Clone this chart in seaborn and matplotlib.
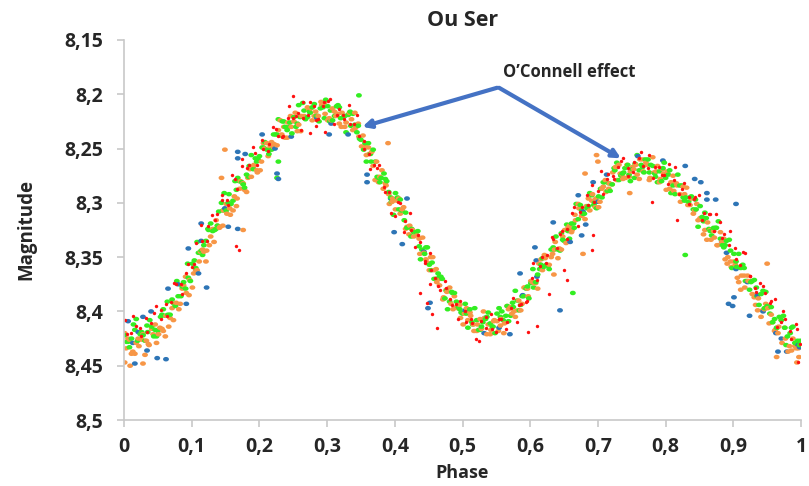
import matplotlib
matplotlib.use("Agg")
import matplotlib.pyplot as plt
from matplotlib.path import Path
import seaborn as sns
import pandas as pd

# ---------------- data ----------------
green_phase = [0.001,0.006,0.011,0.016,0.020,0.026,0.031,0.035,0.041,0.046,0.050,0.056,0.061,0.065,0.071,0.076,0.080,0.086,0.091,0.095,
0.101,0.106,0.110,0.116,0.121,0.125,0.131,0.136,0.140,0.146,0.151,0.155,0.161,0.166,0.170,0.176,0.181,0.185,0.191,0.196,
0.200,0.206,0.211,0.215,0.221,0.226,0.230,0.236,0.241,0.245,0.251,0.256,0.260,0.266,0.271,0.275,0.281,0.286,0.290,0.296,
0.301,0.305,0.311,0.316,0.320,0.326,0.331,0.335,0.341,0.346,0.350,0.356,0.361,0.365,0.371,0.376,0.380,0.386,0.391,0.395,
0.401,0.406,0.410,0.416,0.421,0.425,0.431,0.436,0.440,0.446,0.451,0.455,0.461,0.466,0.470,0.476,0.481,0.485,0.491,0.496,
0.500,0.506,0.511,0.515,0.521,0.526,0.530,0.536,0.541,0.545,0.551,0.556,0.560,0.566,0.571,0.575,0.581,0.586,0.590,0.596,
0.601,0.605,0.611,0.616,0.620,0.626,0.631,0.635,0.641,0.646,0.650,0.656,0.661,0.665,0.671,0.676,0.680,0.686,0.691,0.695,
0.701,0.706,0.710,0.716,0.721,0.725,0.731,0.736,0.740,0.746,0.751,0.755,0.761,0.766,0.770,0.776,0.781,0.785,0.791,0.796,
0.800,0.806,0.811,0.815,0.821,0.826,0.830,0.836,0.841,0.845,0.851,0.856,0.860,0.866,0.871,0.875,0.881,0.886,0.890,0.896,
0.901,0.905,0.911,0.916,0.920,0.926,0.931,0.935,0.941,0.946,0.950,0.956,0.961,0.965,0.971,0.976,0.980,0.986,0.991,0.995,0.999,
0.347,0.829,0.663,0.226,0.228,
0.004,0.014,0.024,0.034,0.044,0.054,0.064,0.074,0.084,0.094,0.104,0.114,0.124,0.134,0.144,0.154,0.164,0.174,0.184,0.194,
0.204,0.214,0.224,0.234,0.244,0.254,0.264,0.274,0.284,0.294,0.304,0.314,0.324,0.334,0.344,0.354,0.364,0.374,0.384,0.394,
0.404,0.414,0.424,0.434,0.444,0.454,0.464,0.474,0.484,0.494,0.504,0.514,0.524,0.534,0.544,0.554,0.564,0.574,0.584,0.594,
0.604,0.614,0.624,0.634,0.644,0.654,0.664,0.674,0.684,0.694,0.704,0.714,0.724,0.734,0.744,0.754,0.764,0.774,0.784,0.794,
0.804,0.814,0.824,0.834,0.844,0.854,0.864,0.874,0.884,0.894,0.904,0.914,0.924,0.934,0.944,0.954,0.964,0.974,0.984,0.994,
0.008,0.018,0.028,0.038,0.048,0.058,0.068,0.078,0.088,0.098,0.108,0.118,0.128,0.138,0.148,0.158,0.168,0.178,0.188,0.198,
0.208,0.218,0.228,0.238,0.248,0.258,0.268,0.278,0.288,0.298,0.308,0.318,0.328,0.338,0.348,0.358,0.368,0.378,0.388,0.398,
0.408,0.418,0.428,0.438,0.448,0.458,0.468,0.478,0.488,0.498,0.508,0.518,0.528,0.538,0.548,0.558,0.568,0.578,0.588,0.598,
0.608,0.618,0.628,0.638,0.648,0.658,0.668,0.678,0.688,0.698,0.708,0.718,0.728,0.738,0.748,0.758,0.768,0.778,0.788,0.798,
0.808,0.818,0.828,0.838,0.848,0.858,0.868,0.878,0.888,0.898,0.908,0.918,0.928,0.938,0.948,0.958,0.968,0.978,0.988,0.998]
green_mag = [8.422,8.428,8.425,8.417,8.427,8.419,8.427,8.419,8.414,8.417,8.418,8.403,8.404,8.403,8.389,8.395,8.386,8.377,8.379,8.369,
8.356,8.360,8.346,8.348,8.335,8.325,8.326,8.324,8.308,8.307,8.307,8.292,8.298,8.288,8.280,8.283,8.274,8.266,8.269,8.262,
8.257,8.249,8.251,8.251,8.237,8.237,8.238,8.225,8.233,8.226,8.221,8.227,8.221,8.215,8.221,8.217,8.209,8.220,8.213,8.222,
8.211,8.215,8.220,8.210,8.222,8.220,8.219,8.229,8.228,8.229,8.242,8.245,8.245,8.262,8.262,8.277,8.277,8.278,8.290,8.299,
8.291,8.306,8.307,8.309,8.322,8.324,8.327,8.340,8.343,8.341,8.357,8.355,8.370,8.368,8.370,8.381,8.391,8.383,8.391,8.398,
8.402,8.402,8.398,8.412,8.408,8.417,8.410,8.405,8.411,8.414,8.402,8.405,8.408,8.395,8.404,8.396,8.390,8.394,8.386,8.377,
8.374,8.378,8.366,8.357,8.359,8.358,8.343,8.343,8.343,8.328,8.335,8.326,8.319,8.323,8.315,8.307,8.310,8.303,8.293,8.300,
8.294,8.295,8.281,8.282,8.283,8.270,8.279,8.273,8.268,8.274,8.269,8.264,8.270,8.267,8.260,8.272,8.266,8.276,8.271,8.268,
8.277,8.270,8.284,8.283,8.284,8.295,8.295,8.295,8.306,8.306,8.303,8.317,8.314,8.326,8.323,8.323,8.333,8.341,8.335,8.344,
8.347,8.359,8.360,8.360,8.372,8.373,8.371,8.386,8.384,8.397,8.395,8.396,8.407,8.415,8.408,8.415,8.423,8.415,8.429,8.427,8.427,
8.201,8.348,8.383,8.277,8.262,
8.428,8.412,8.421,8.413,8.423,8.405,8.391,8.393,8.386,8.356,8.353,8.344,8.324,8.325,8.300,8.300,8.280,8.281,8.276,8.259,
8.249,8.255,8.237,8.225,8.230,8.230,8.208,8.216,8.220,8.212,8.225,8.211,8.221,8.216,8.235,8.251,8.255,8.276,8.273,8.295,
8.295,8.316,8.331,8.326,8.347,8.362,8.365,8.388,8.382,8.396,8.393,8.410,8.417,8.407,8.414,8.397,8.404,8.392,8.399,8.379,
8.361,8.361,8.357,8.341,8.344,8.320,8.319,8.302,8.305,8.302,8.287,8.289,8.268,8.275,8.265,8.277,8.265,8.260,8.273,8.280,
8.274,8.292,8.284,8.299,8.297,8.313,8.324,8.323,8.339,8.334,8.354,8.357,8.380,8.378,8.381,8.402,8.415,8.404,8.420,8.430,
8.433,8.407,8.422,8.408,8.423,8.398,8.403,8.372,8.373,8.372,8.336,8.339,8.319,8.321,8.291,8.301,8.277,8.286,8.256,8.260,
8.244,8.251,8.223,8.230,8.236,8.210,8.223,8.212,8.225,8.205,8.224,8.212,8.235,8.218,8.241,8.262,8.251,8.281,8.280,8.311,
8.297,8.323,8.327,8.352,8.341,8.370,8.368,8.398,8.383,8.401,8.415,8.397,8.414,8.401,8.420,8.400,8.409,8.381,8.386,8.388,
8.373,8.351,8.361,8.331,8.334,8.333,8.301,8.310,8.291,8.305,8.281,8.289,8.263,8.272,8.280,8.256,8.272,8.265,8.281,8.263,
8.291,8.274,8.298,8.294,8.322,8.309,8.330,8.317,8.339,8.360,8.347,8.372,8.372,8.394,8.382,8.410,8.405,8.431,8.414,8.431]

orange_phase = [0.003,0.008,0.013,0.018,0.022,0.028,0.033,0.037,0.043,0.048,0.053,0.058,0.062,0.068,0.073,0.077,0.083,0.088,0.092,0.097,
0.103,0.108,0.113,0.118,0.122,0.128,0.133,0.138,0.142,0.147,0.152,0.157,0.163,0.167,0.172,0.178,0.183,0.188,0.192,0.197,
0.203,0.208,0.213,0.218,0.222,0.228,0.233,0.238,0.242,0.247,0.253,0.258,0.262,0.268,0.273,0.278,0.283,0.287,0.292,0.297,
0.303,0.308,0.313,0.318,0.322,0.328,0.333,0.338,0.342,0.347,0.353,0.358,0.362,0.368,0.373,0.378,0.383,0.387,0.392,0.397,
0.403,0.408,0.413,0.418,0.422,0.428,0.433,0.437,0.443,0.448,0.453,0.458,0.462,0.467,0.472,0.477,0.483,0.488,0.493,0.497,
0.503,0.508,0.512,0.517,0.522,0.528,0.533,0.538,0.542,0.547,0.553,0.557,0.562,0.568,0.573,0.578,0.583,0.588,0.592,0.597,
0.603,0.608,0.613,0.618,0.622,0.628,0.633,0.637,0.643,0.648,0.653,0.658,0.662,0.667,0.672,0.677,0.683,0.688,0.692,0.697,
0.703,0.708,0.712,0.717,0.722,0.728,0.733,0.737,0.743,0.748,0.753,0.758,0.762,0.767,0.772,0.777,0.783,0.788,0.792,0.797,
0.803,0.808,0.812,0.817,0.822,0.828,0.833,0.838,0.843,0.848,0.853,0.858,0.862,0.867,0.872,0.877,0.883,0.888,0.892,0.897,
0.903,0.908,0.912,0.917,0.922,0.928,0.933,0.937,0.943,0.948,0.953,0.958,0.962,0.967,0.972,0.977,0.983,0.988,0.993,0.997,
0.149,0.144,0.176,0.390,0.678,0.635,0.698,0.700,0.681,0.747,0.950,0.994,0.964,0.001,0.009,0.028,
0.006,0.016,0.026,0.036,0.046,0.056,0.066,0.076,0.086,0.096,0.106,0.116,0.126,0.136,0.146,0.156,0.166,0.176,0.186,0.196,
0.206,0.216,0.226,0.236,0.246,0.256,0.266,0.276,0.286,0.296,0.306,0.316,0.326,0.336,0.346,0.356,0.366,0.376,0.386,0.396,
0.406,0.416,0.426,0.436,0.446,0.456,0.466,0.476,0.486,0.496,0.506,0.516,0.526,0.536,0.546,0.556,0.566,0.576,0.586,0.596,
0.606,0.616,0.626,0.636,0.646,0.656,0.666,0.676,0.686,0.696,0.706,0.716,0.726,0.736,0.746,0.756,0.766,0.776,0.786,0.796,
0.806,0.816,0.826,0.836,0.846,0.856,0.866,0.876,0.886,0.896,0.906,0.916,0.926,0.936,0.946,0.956,0.966,0.976,0.986,0.996,
0.001,0.011,0.021,0.031,0.041,0.051,0.061,0.071,0.081,0.091,0.101,0.111,0.121,0.131,0.141,0.151,0.161,0.171,0.181,0.191,
0.201,0.211,0.221,0.231,0.241,0.251,0.261,0.271,0.281,0.291,0.301,0.311,0.321,0.331,0.341,0.351,0.361,0.371,0.381,0.391,
0.401,0.411,0.421,0.431,0.441,0.451,0.461,0.471,0.481,0.491,0.501,0.511,0.521,0.531,0.541,0.551,0.561,0.571,0.581,0.591,
0.601,0.611,0.621,0.631,0.641,0.651,0.661,0.671,0.681,0.691,0.701,0.711,0.721,0.731,0.741,0.751,0.761,0.771,0.781,0.791,
0.801,0.811,0.821,0.831,0.841,0.851,0.861,0.871,0.881,0.891,0.901,0.911,0.921,0.931,0.941,0.951,0.961,0.971,0.981,0.991]
orange_mag = [8.434,8.426,8.437,8.429,8.432,8.421,8.427,8.431,8.421,8.429,8.415,8.418,8.404,8.406,8.408,8.392,8.393,8.376,8.383,8.371,
8.365,8.362,8.345,8.345,8.344,8.331,8.336,8.321,8.322,8.307,8.310,8.311,8.294,8.296,8.280,8.288,8.277,8.276,8.265,8.272,
8.262,8.250,8.257,8.244,8.246,8.233,8.237,8.240,8.226,8.230,8.217,8.228,8.220,8.222,8.214,8.224,8.216,8.220,8.210,8.218,
8.222,8.213,8.220,8.227,8.217,8.226,8.217,8.233,8.231,8.239,8.238,8.256,8.255,8.266,8.262,8.276,8.287,8.284,8.301,8.296,
8.298,8.310,8.304,8.322,8.321,8.331,8.330,8.347,8.346,8.355,8.350,8.362,8.373,8.370,8.387,8.382,8.393,8.386,8.397,8.406,
8.402,8.408,8.404,8.418,8.412,8.416,8.406,8.412,8.417,8.408,8.418,8.407,8.411,8.398,8.402,8.405,8.390,8.393,8.378,8.386,
8.373,8.374,8.356,8.362,8.351,8.357,8.347,8.336,8.342,8.331,8.337,8.321,8.325,8.316,8.305,8.311,8.303,8.307,8.292,8.296,
8.299,8.285,8.290,8.282,8.272,8.279,8.273,8.278,8.265,8.271,8.269,8.274,8.260,8.271,8.265,8.277,8.272,8.266,8.278,8.273,
8.271,8.281,8.289,8.284,8.299,8.292,8.302,8.296,8.307,8.316,8.315,8.325,8.318,8.334,8.332,8.339,8.336,8.352,8.350,8.359,
8.357,8.373,8.367,8.378,8.372,8.384,8.394,8.388,8.399,8.393,8.411,8.410,8.417,8.414,8.429,8.425,8.432,8.425,8.434,8.442,
8.251,8.277,8.325,8.245,8.347,8.366,8.256,8.262,8.273,8.291,8.356,8.447,8.442,8.447,8.450,8.448,
8.425,8.439,8.426,8.430,8.412,8.416,8.414,8.394,8.379,8.385,8.362,8.343,8.339,8.316,8.321,8.305,8.303,8.282,8.269,8.270,
8.245,8.248,8.247,8.230,8.220,8.234,8.220,8.213,8.220,8.208,8.224,8.218,8.230,8.223,8.227,8.248,8.253,8.281,8.282,8.299,
8.296,8.324,8.325,8.333,8.352,8.350,8.376,8.380,8.398,8.394,8.397,8.412,8.407,8.421,8.409,8.413,8.395,8.400,8.399,8.379,
8.374,8.352,8.358,8.343,8.343,8.323,8.311,8.312,8.296,8.304,8.287,8.287,8.267,8.274,8.276,8.265,8.260,8.279,8.271,8.269,
8.287,8.282,8.285,8.302,8.301,8.329,8.325,8.339,8.333,8.354,8.369,8.367,8.372,8.399,8.398,8.403,8.420,8.415,8.436,8.434,
8.420,8.439,8.425,8.440,8.416,8.421,8.423,8.397,8.398,8.368,8.378,8.354,8.354,8.324,8.323,8.301,8.307,8.287,8.290,8.267,
8.270,8.245,8.249,8.224,8.240,8.225,8.234,8.212,8.220,8.207,8.224,8.216,8.230,8.219,8.217,8.248,8.249,8.279,8.270,8.292,
8.306,8.306,8.329,8.327,8.332,8.362,8.361,8.389,8.378,8.396,8.412,8.401,8.418,8.400,8.421,8.409,8.420,8.396,8.399,8.378,
8.372,8.379,8.348,8.350,8.351,8.325,8.327,8.301,8.315,8.298,8.304,8.279,8.283,8.265,8.277,8.267,8.278,8.263,8.258,8.281,
8.288,8.275,8.292,8.286,8.310,8.314,8.334,8.326,8.327,8.356,8.354,8.380,8.367,8.387,8.405,8.397,8.418,8.408,8.437,8.432]

red_phase = [0.002,0.010,0.017,0.025,0.032,0.040,0.047,0.055,0.062,0.070,0.077,0.085,0.092,0.100,0.107,0.115,0.122,0.130,0.137,0.145,
0.152,0.160,0.167,0.175,0.182,0.190,0.197,0.205,0.212,0.220,0.227,0.235,0.242,0.250,0.257,0.265,0.272,0.280,0.287,0.295,
0.302,0.310,0.317,0.325,0.332,0.340,0.347,0.355,0.362,0.370,0.377,0.385,0.392,0.400,0.407,0.415,0.422,0.430,0.437,0.445,
0.452,0.460,0.467,0.475,0.482,0.490,0.497,0.505,0.512,0.520,0.527,0.535,0.542,0.550,0.557,0.565,0.572,0.580,0.587,0.595,
0.602,0.610,0.617,0.625,0.632,0.640,0.647,0.655,0.662,0.670,0.677,0.685,0.692,0.700,0.707,0.715,0.722,0.730,0.737,0.745,
0.752,0.760,0.767,0.775,0.782,0.790,0.797,0.805,0.812,0.820,0.827,0.835,0.842,0.850,0.857,0.865,0.872,0.880,0.887,0.895,
0.902,0.910,0.917,0.925,0.932,0.940,0.947,0.955,0.962,0.970,0.977,0.985,0.992,0.999,
0.250,0.262,0.275,0.297,0.283,0.166,0.170,0.437,0.447,0.455,0.462,0.452,0.693,0.692,0.650,0.655,0.597,0.610,0.628,0.780,0.817,0.996,
0.004,0.014,0.024,0.034,0.044,0.054,0.064,0.074,0.084,0.094,0.104,0.114,0.124,0.134,0.144,0.154,0.164,0.174,0.184,0.194,
0.204,0.214,0.224,0.234,0.244,0.254,0.264,0.274,0.284,0.294,0.304,0.314,0.324,0.334,0.344,0.354,0.364,0.374,0.384,0.394,
0.404,0.414,0.424,0.434,0.444,0.454,0.464,0.474,0.484,0.494,0.504,0.514,0.524,0.534,0.544,0.554,0.564,0.574,0.584,0.594,
0.604,0.614,0.624,0.634,0.644,0.654,0.664,0.674,0.684,0.694,0.704,0.714,0.724,0.734,0.744,0.754,0.764,0.774,0.784,0.794,
0.804,0.814,0.824,0.834,0.844,0.854,0.864,0.874,0.884,0.894,0.904,0.914,0.924,0.934,0.944,0.954,0.964,0.974,0.984,0.994]
red_mag = [8.408,8.420,8.413,8.423,8.406,8.411,8.395,8.407,8.393,8.391,8.375,8.384,8.365,8.359,8.337,8.335,8.335,8.311,8.310,8.297,
8.297,8.274,8.287,8.266,8.268,8.249,8.265,8.250,8.252,8.230,8.238,8.238,8.222,8.222,8.217,8.207,8.219,8.211,8.223,8.207,
8.206,8.227,8.214,8.223,8.210,8.227,8.238,8.243,8.255,8.265,8.265,8.290,8.290,8.312,8.300,8.317,8.309,8.341,8.336,8.354,
8.346,8.369,8.380,8.378,8.389,8.393,8.390,8.410,8.407,8.425,8.409,8.415,8.402,8.419,8.407,8.410,8.397,8.410,8.393,8.390,
8.369,8.371,8.350,8.348,8.331,8.342,8.326,8.324,8.309,8.321,8.304,8.302,8.284,8.289,8.292,8.273,8.275,8.267,8.259,8.268,
8.272,8.259,8.266,8.256,8.277,8.267,8.274,8.264,8.279,8.292,8.282,8.295,8.296,8.293,8.309,8.310,8.326,8.318,8.329,8.326,
8.342,8.357,8.346,8.367,8.378,8.374,8.383,8.390,8.389,8.410,8.407,8.425,8.412,8.430,
8.202,8.233,8.236,8.235,8.229,8.340,8.343,8.383,8.392,8.402,8.415,8.375,8.330,8.343,8.362,8.371,8.419,8.413,8.384,8.299,8.316,8.447,
8.421,8.404,8.415,8.419,8.401,8.399,8.404,8.374,8.375,8.356,8.356,8.320,8.321,8.316,8.293,8.302,8.278,8.260,8.265,8.254,
8.242,8.246,8.232,8.239,8.211,8.220,8.222,8.207,8.224,8.211,8.204,8.219,8.219,8.227,8.219,8.250,8.269,8.268,8.285,8.309,
8.299,8.327,8.325,8.330,8.355,8.362,8.377,8.372,8.394,8.407,8.400,8.411,8.427,8.405,8.416,8.407,8.416,8.388,8.394,8.391,
8.355,8.358,8.355,8.333,8.329,8.333,8.304,8.308,8.293,8.299,8.271,8.278,8.278,8.261,8.275,8.262,8.253,8.268,8.267,8.274,
8.283,8.267,8.287,8.301,8.295,8.316,8.310,8.310,8.332,8.339,8.352,8.345,8.367,8.382,8.377,8.392,8.414,8.400,8.418,8.416]

blue_phase = [0.006,0.013,0.016,0.021,0.028,0.034,0.040,0.049,0.062,0.065,0.080,0.092,0.095,0.110,0.114,0.114,0.122,0.149,0.154,0.168,
0.168,0.168,0.179,0.204,0.223,0.226,0.228,0.247,0.285,0.303,0.306,0.331,0.359,0.359,0.394,0.399,0.411,0.418,0.443,0.449,
0.452,0.504,0.533,0.532,0.554,0.570,0.585,0.589,0.607,0.609,0.610,0.634,0.644,0.659,0.671,0.676,0.678,0.682,0.693,0.700,
0.713,0.759,0.796,0.829,0.843,0.852,0.861,0.861,0.874,0.883,0.890,0.893,0.899,0.901,0.904,0.904,0.921,0.924,0.936,0.944,
0.963,0.966,0.971,0.979,0.996,0.998]
blue_mag = [8.409,8.429,8.448,8.419,8.405,8.436,8.400,8.443,8.444,8.379,8.375,8.393,8.342,8.365,8.335,8.319,8.378,8.305,8.322,8.324,
8.253,8.259,8.255,8.237,8.250,8.273,8.278,8.239,8.222,8.237,8.227,8.237,8.274,8.281,8.296,8.327,8.338,8.296,8.345,8.397,
8.392,8.399,8.406,8.420,8.415,8.421,8.365,8.385,8.341,8.353,8.368,8.318,8.399,8.336,8.293,8.330,8.308,8.320,8.281,8.299,
8.274,8.257,8.261,8.266,8.278,8.281,8.291,8.297,8.297,8.336,8.346,8.393,8.395,8.387,8.301,8.361,8.373,8.404,8.385,8.400,
8.420,8.437,8.425,8.437,8.431,8.433]

y_ticks = [8.15, 8.2, 8.25, 8.3, 8.35, 8.4, 8.45, 8.5]
y_tick_labels = ["8,15", "8,2", "8,25", "8,3", "8,35", "8,4", "8,45", "8,5"]
x_ticks = [0, 0.1, 0.2, 0.3, 0.4, 0.5, 0.6, 0.7, 0.8, 0.9, 1.0]
x_tick_labels = ["0", "0,1", "0,2", "0,3", "0,4", "0,5", "0,6", "0,7", "0,8", "0,9", "1"]

# ---------------- table ----------------
frames = []
for name, ph, mg in [("blue", blue_phase, blue_mag), ("orange", orange_phase, orange_mag),
                     ("green", green_phase, green_mag), ("red", red_phase, red_mag)]:
    frames.append(pd.DataFrame({"Phase": ph, "Magnitude": mg, "series": name}))
df = pd.concat(frames, ignore_index=True)

# ---------------- style ----------------
sns.set_style("white")
plt.rcParams["font.family"] = ["Open Sans", "DejaVu Sans"]

# slightly wide oval dots, like the reference
circ = Path.unit_circle()
oval = Path(circ.vertices * [1.3, 1.0], circ.codes)

colors = {"blue": "#2E75B6", "orange": "#F79646", "green": "#33EE22", "red": "#FF1010"}

fig = plt.figure(figsize=(8.09, 4.86), dpi=100)
ax = fig.add_axes([0.1533, 0.1358, 0.8368, 0.7819])

# big dots: blue, orange, green drawn interleaved along the phase so that colours mix
big = df[df["series"] != "red"].sort_values("Phase", kind="mergesort")
sns.scatterplot(data=big, x="Phase", y="Magnitude", hue="series", palette=colors,
                s=18, marker=oval, linewidth=0, ax=ax, legend=False)
small = df[df["series"] == "red"]
sns.scatterplot(data=small, x="Phase", y="Magnitude", color=colors["red"],
                s=6, marker="o", linewidth=0, ax=ax, legend=False)

ax.set_xlim(0, 1)
ax.set_ylim(8.5, 8.15)
ax.set_xticks(x_ticks)
ax.set_xticklabels(x_tick_labels)
ax.set_yticks(y_ticks)
ax.set_yticklabels(y_tick_labels)

for lab in ax.get_xticklabels() + ax.get_yticklabels():
    lab.set_fontweight("bold")
    lab.set_fontsize(14)

spine_col = "#C8C8C8"
for s in ["top", "right"]:
    ax.spines[s].set_visible(False)
for s in ["left", "bottom"]:
    ax.spines[s].set_color(spine_col)
    ax.spines[s].set_linewidth(1.2)
ax.tick_params(axis="both", which="major", direction="out", length=5, width=1.2,
               color=spine_col, left=True, bottom=True)
ax.tick_params(axis="y", pad=10)
ax.tick_params(axis="x", pad=7)

ax.set_xlabel("Phase", fontsize=13, fontweight="bold", labelpad=5)
ax.set_ylabel("Magnitude", fontsize=13.5, fontweight="bold", labelpad=20)
ax.set_title("Ou Ser", fontsize=15.5, fontweight="bold", pad=10)

# annotation
arrow_col = "#4472C4"
ax.text(0.657, 8.1795, "O\u2019Connell effect", ha="center", va="center",
        fontsize=12, fontweight="bold")
ax.annotate("", xy=(0.352, 8.230), xytext=(0.551, 8.194),
            arrowprops=dict(arrowstyle="-|>", color=arrow_col, lw=3, mutation_scale=12,
                            shrinkA=0, shrinkB=0))
ax.annotate("", xy=(0.734, 8.259), xytext=(0.554, 8.194),
            arrowprops=dict(arrowstyle="-|>", color=arrow_col, lw=3, mutation_scale=12,
                            shrinkA=0, shrinkB=0))

fig.savefig("out.png", dpi=100)
